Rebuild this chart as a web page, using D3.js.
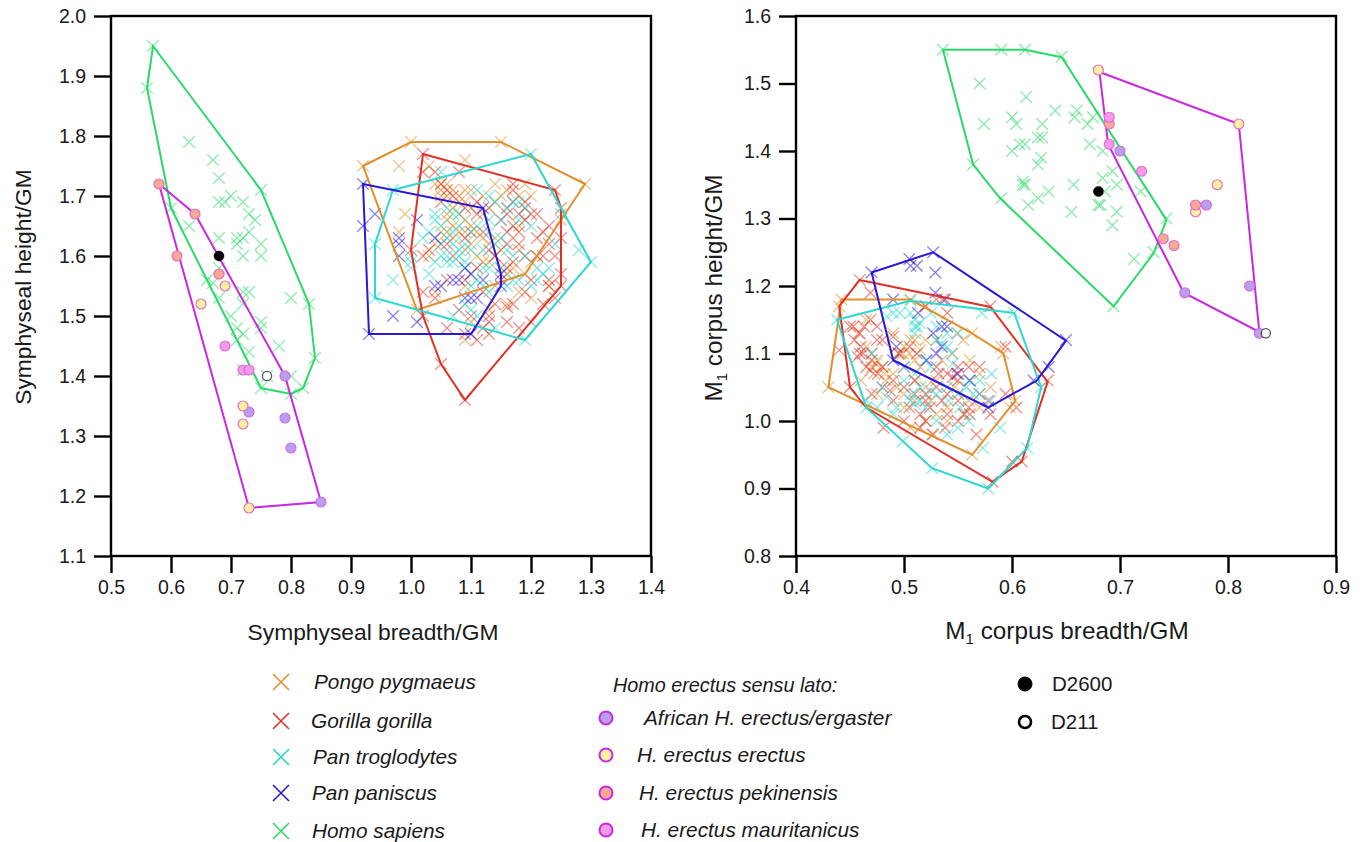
<!doctype html>
<html>

<head>
    <title>symphyseal and corpus scatter</title>
    <style>
        body { margin: 0; background: #fff; }
        svg { display: block; }
        text { font-family: "Liberation Sans", Arial, sans-serif; fill: #1a1a1a; }
        .tick text { font-size: 19.5px; }
        .axis-title { font-size: 22.8px; }
        .axis-title.m1 { font-size: 24.3px; }
        .legend text { font-size: 20.8px; font-style: italic; }
    </style>
    <script src="https://d3js.org/d3.v7.min.js"></script>
</head>

<body>
    <svg width="1365" height="842"></svg>
    <script>
        // symphysis panel, [breadth, height]
        var symPongo = [[.92,1.75],[1.0,1.79],[1.15,1.79],[.98,1.75],[1.09,1.76],[1.03,1.75],[1.29,1.72],[1.05,1.72],[1.05,1.71],[1.06,1.70],
            [.99,1.67],[.98,1.64],[1.14,1.72],[1.20,1.70],[1.19,1.72],[1.07,1.68],[1.08,1.67],[1.07,1.65],[1.06,1.64],[1.07,1.63],
            [1.10,1.65],[1.11,1.64],[1.15,1.70],[1.13,1.62],[1.12,1.63],[1.04,1.54],[1.17,1.58],[1.16,1.57],[1.21,1.60],[1.12,1.59],
            [1.09,1.46],[1.10,1.49],[1.01,1.51],[1.25,1.66],[1.19,1.57],[1.23,1.55],[1.13,1.51],[1.16,1.52],[1.08,1.70],[1.09,1.71],
            [1.14,1.69],[1.10,1.71],[1.06,1.66],[1.09,1.61],[1.14,1.60],[1.18,1.65],[1.09,1.66],[1.12,1.67],
            [1.04,1.72],[1.06,1.72],[1.07,1.71],[1.05,1.70],[1.09,1.69],[1.08,1.69],[1.10,1.68],[1.12,1.70],[1.16,1.71],[1.18,1.70],
            [1.06,1.67],[1.05,1.64],[1.08,1.64],[1.09,1.64],[1.04,1.62],[1.10,1.62],[1.14,1.63],[1.15,1.61],[1.11,1.60],[1.13,1.59],
            [1.15,1.58],[1.03,1.60],[1.18,1.61],[1.20,1.59],[1.18,1.54],[1.14,1.55],[1.09,1.55],[1.20,1.53]];
        var symGorilla = [[1.02,1.77],[1.24,1.71],[1.25,1.68],[1.25,1.55],[1.09,1.36],[1.05,1.42],[1.02,1.50],[1.0,1.61],[1.02,1.74],[1.08,1.74],
            [1.11,1.69],[1.17,1.72],[1.17,1.71],[1.16,1.68],[1.16,1.67],[1.18,1.67],[1.20,1.67],[1.21,1.67],[1.17,1.65],[1.16,1.64],
            [1.18,1.64],[1.11,1.67],[1.22,1.64],[1.23,1.62],[1.25,1.63],[1.02,1.60],[1.03,1.61],[1.09,1.63],[1.10,1.64],[1.12,1.64],
            [1.16,1.62],[1.18,1.62],[1.21,1.63],[1.21,1.60],[1.22,1.60],[1.17,1.59],[1.16,1.58],[1.11,1.58],[1.23,1.56],[1.25,1.57],
            [1.23,1.55],[1.20,1.56],[1.02,1.54],[1.08,1.51],[1.06,1.48],[1.09,1.47],[1.13,1.50],[1.13,1.49],[1.14,1.52],[1.16,1.515],
            [1.17,1.52],[1.16,1.49],[1.18,1.48],[1.13,1.47],[1.20,1.49],[1.05,1.72],[1.06,1.71],[1.04,1.74],[1.19,1.69],[1.07,1.60],
            [1.05,1.69],[1.07,1.70],[1.09,1.68],[1.13,1.68],[1.17,1.69],[1.19,1.66],[1.15,1.66],[1.19,1.68],[1.13,1.61],[1.19,1.60],
            [1.05,1.62],[1.06,1.62],[1.14,1.60],[1.15,1.56],[1.19,1.54],[1.22,1.52],[1.24,1.53],[1.04,1.53],[1.10,1.50],[1.12,1.48],
            [1.11,1.46],[1.06,1.56],[1.09,1.56],[1.23,1.65],[1.24,1.60],[1.12,1.54]];
        var symTroglodytes = [[.97,1.71],[1.20,1.77],[1.30,1.59],[1.19,1.46],[.94,1.53],[.94,1.62],[.97,1.56],[1.0,1.59],[1.0,1.58],[1.05,1.74],
            [1.04,1.67],[1.04,1.66],[1.07,1.67],[1.08,1.67],[1.11,1.71],[1.13,1.70],[1.14,1.69],[1.18,1.69],[1.17,1.69],[1.19,1.68],
            [1.20,1.65],[1.24,1.62],[1.28,1.61],[1.13,1.66],[1.11,1.65],[1.10,1.64],[1.05,1.62],[1.07,1.62],[1.09,1.62],[1.06,1.60],
            [1.09,1.59],[1.03,1.57],[1.11,1.56],[1.10,1.55],[1.16,1.61],[1.17,1.60],[1.16,1.55],[1.18,1.56],[1.21,1.58],[1.22,1.57],
            [1.21,1.56],[1.13,1.58],[1.15,1.58],[1.10,1.51],[1.11,1.50],[1.14,1.48],[1.08,1.65],[1.06,1.59],[1.07,1.59],[1.25,1.67],
            [1.0,1.60],[1.12,1.61],[1.15,1.63],[1.07,1.64],[1.05,1.65],
            [1.06,1.68],[1.03,1.64],[1.02,1.63],[1.06,1.63],[1.08,1.61],[1.08,1.60],[1.10,1.61],[1.12,1.58],[1.05,1.60],[1.04,1.59],
            [1.15,1.66],[1.16,1.68],[1.18,1.66],[1.14,1.62],[1.19,1.60],[1.17,1.56],[1.20,1.55],[1.23,1.58],[1.13,1.54],[1.12,1.55],
            [1.09,1.52],[1.07,1.50],[1.09,1.58],[1.13,1.64]];
        var symPaniscus = [[.92,1.72],[.94,1.67],[.92,1.65],[1.01,1.66],[.98,1.63],[.98,1.62],[.98,1.60],[.93,1.47],[.97,1.50],[1.01,1.49],
            [1.10,1.47],[1.04,1.55],[1.05,1.55],[1.07,1.56],[1.08,1.56],[1.09,1.58],[1.10,1.57],[1.09,1.53],[1.11,1.53],[1.10,1.53],
            [1.12,1.68],[1.15,1.57],[1.15,1.55],[1.04,1.63],[1.12,1.56]];
        var symSapiens = [[.57,1.95],[.56,1.88],[.63,1.79],[.67,1.76],[.68,1.73],[.75,1.71],[.68,1.69],[.69,1.69],[.70,1.70],[.72,1.69],
            [.73,1.67],[.74,1.66],[.73,1.64],[.60,1.68],[.63,1.65],[.68,1.63],[.71,1.63],[.72,1.63],[.71,1.62],[.75,1.62],
            [.72,1.60],[.75,1.60],[.68,1.58],[.67,1.555],[.66,1.56],[.68,1.53],[.73,1.54],[.72,1.54],[.72,1.52],[.80,1.53],
            [.83,1.52],[.70,1.50],[.75,1.49],[.75,1.48],[.71,1.48],[.72,1.47],[.78,1.45],[.73,1.44],[.71,1.46],[.84,1.43],
            [.72,1.41],[.76,1.40],[.80,1.40],[.75,1.38],[.80,1.37],[.82,1.38]];
        var symAfrican = [[.73,1.34],[.79,1.40],[.79,1.33],[.80,1.28],[.85,1.19]];
        var symErectus = [[.69,1.55],[.65,1.52],[.72,1.35],[.72,1.32],[.73,1.18]];
        var symPekinensis = [[.58,1.72],[.64,1.67],[.61,1.60],[.68,1.57]];
        var symMauritanicus = [[.69,1.45],[.72,1.41],[.73,1.41]];
        var symD2600 = [[.68,1.60]];
        var symD211 = [[.76,1.40]];

        var symPongoHull = [[.92,1.75],[1.0,1.79],[1.15,1.79],[1.29,1.72],[1.25,1.66],[1.19,1.57],[1.01,1.51]];
        var symGorillaHull = [[1.02,1.77],[1.24,1.71],[1.25,1.68],[1.25,1.55],[1.09,1.36],[1.05,1.42],[1.02,1.50],[1.0,1.61]];
        var symTroglodytesHull = [[.97,1.71],[1.20,1.77],[1.30,1.59],[1.19,1.46],[.94,1.53],[.94,1.62]];
        var symPaniscusHull = [[.92,1.72],[1.12,1.68],[1.15,1.57],[1.15,1.55],[1.10,1.47],[.93,1.47]];
        var symSapiensHull = [[.57,1.95],[.75,1.71],[.83,1.52],[.84,1.43],[.82,1.38],[.80,1.37],[.75,1.38],[.60,1.68],[.56,1.88]];
        var symErectusHull = [[.58,1.72],[.64,1.67],[.79,1.40],[.85,1.19],[.73,1.18]];

        // M1 corpus panel, [breadth, height]
        var corPongo = [[.442,1.18],[.506,1.18],[.563,1.13],[.592,1.10],[.603,1.03],[.563,.95],[.43,1.05],[.458,1.13],[.47,1.08],[.472,1.07],
            [.495,1.10],[.497,1.10],[.499,1.10],[.506,1.12],[.52,1.17],[.549,1.13],[.561,1.09],[.57,1.07],[.493,1.05],[.54,1.0],
            [.506,.99],[.526,.98],[.482,1.07],[.46,1.06],[.547,1.05],[.515,1.105],[.59,1.11],[.598,1.02],[.515,1.08],[.475,1.09],
            [.50,1.04],[.53,1.06],[.555,1.01],[.44,1.17],[.465,1.15],[.52,1.12],[.51,1.12],
            [.48,1.08],[.474,1.085],[.465,1.11],[.49,1.07],[.51,1.06],[.52,1.05],[.51,1.03],[.525,1.03],[.54,1.02],[.53,1.01],
            [.55,1.04],[.56,1.03],[.57,1.02],[.58,1.05],[.50,1.02],[.52,1.0],[.535,1.09],[.545,1.10],[.555,1.12],[.505,1.10],
            [.50,1.11],[.51,1.09],[.49,1.13],[.53,1.12],[.475,1.04],[.483,1.06]];
        var corGorilla = [[.459,1.209],[.469,1.19],[.58,1.17],[.633,1.06],[.609,.94],[.582,.91],[.45,1.05],[.453,1.14],[.469,1.15],[.463,1.14],
            [.459,1.13],[.459,1.10],[.462,1.10],[.457,1.095],[.47,1.09],[.476,1.07],[.475,1.12],[.594,1.11],[.594,1.04],[.604,1.02],
            [.567,.98],[.524,1.02],[.51,1.06],[.532,1.07],[.55,1.07],[.512,1.10],[.495,1.10],[.561,1.01],[.556,1.01],[.538,.99],
            [.515,.99],[.481,.99],[.527,.98],[.487,1.045],[.57,1.08],[.44,1.105],[.536,1.18],[.53,1.18],[.469,1.075],[.55,1.06],
            [.505,1.02],[.48,1.12],[.52,1.04],[.535,1.03],[.578,1.03],[.60,.94],[.49,1.03],[.454,1.12],
            [.45,1.14],[.46,1.11],[.465,1.08],[.47,1.10],[.48,1.08],[.49,1.06],[.48,1.05],[.47,1.04],[.50,1.05],[.51,1.04],
            [.52,1.03],[.53,1.05],[.54,1.04],[.55,1.03],[.56,1.02],[.57,1.04],[.58,1.01],[.50,1.08],[.53,1.08],[.54,1.07],
            [.55,1.08],[.56,1.08],[.545,1.065],[.515,1.01],[.52,1.00],[.50,1.00],[.54,1.01],[.55,1.0],[.505,1.11],[.49,1.125],
            [.475,1.14],[.54,1.16],[.52,1.17]];
        var corTroglodytes = [[.438,1.15],[.506,1.178],[.572,1.16],[.602,1.16],[.627,1.05],[.614,.96],[.578,.90],[.526,.93],[.465,1.03],[.465,1.02],
            [.573,.96],[.589,.99],[.51,1.14],[.512,1.14],[.496,1.16],[.506,1.16],[.499,.97],[.581,1.07],[.57,1.06],[.544,1.10],
            [.535,1.115],[.52,1.09],[.506,1.03],[.507,1.04],[.484,1.035],[.52,1.02],[.54,.98],[.541,1.03],[.552,1.02],[.564,1.04],
            [.484,1.155],[.49,1.16],[.53,1.04],[.515,1.05],[.493,1.02],[.55,1.13],[.558,1.05],[.47,1.10],[.525,1.16],[.54,1.13],
            [.51,1.15],[.51,1.13],[.515,1.145],[.53,1.14],[.53,1.12],[.54,1.11],[.545,1.085],[.525,1.08],[.51,1.07],[.50,1.06],
            [.515,1.03],[.51,1.025],[.525,1.045],[.54,1.05],[.55,1.04],[.56,1.06],[.57,1.04],[.48,1.05],[.49,1.01],[.475,1.02],
            [.53,1.0],[.55,.99],[.56,1.0],[.58,1.03],[.50,1.08]];
        var corPaniscus = [[.47,1.22],[.505,1.24],[.506,1.23],[.512,1.23],[.527,1.25],[.529,1.22],[.529,1.19],[.538,1.18],[.49,1.18],[.513,1.16],
            [.65,1.12],[.634,1.08],[.62,1.06],[.578,1.02],[.49,1.09],[.493,1.11],[.527,1.13],[.535,1.14],[.54,1.14],[.53,1.10],
            [.535,1.11],[.549,1.07],[.561,1.06],[.521,1.09]];
        var corSapiens = [[.536,1.55],[.59,1.55],[.612,1.55],[.646,1.54],[.57,1.50],[.613,1.48],[.574,1.44],[.60,1.45],[.604,1.44],[.628,1.44],
            [.64,1.46],[.66,1.46],[.658,1.45],[.675,1.45],[.67,1.44],[.607,1.41],[.612,1.41],[.60,1.40],[.624,1.42],[.628,1.42],
            [.672,1.41],[.684,1.40],[.627,1.39],[.624,1.38],[.564,1.38],[.693,1.37],[.684,1.36],[.61,1.355],[.612,1.35],[.61,1.35],
            [.657,1.35],[.697,1.35],[.686,1.34],[.634,1.34],[.719,1.34],[.624,1.33],[.59,1.33],[.615,1.32],[.68,1.32],[.682,1.32],
            [.655,1.31],[.697,1.31],[.693,1.29],[.743,1.30],[.713,1.24],[.731,1.25],[.694,1.17]];
        var corAfrican = [[.70,1.40],[.78,1.32],[.76,1.19],[.82,1.20],[.829,1.13]];
        var corErectus = [[.68,1.52],[.81,1.44],[.79,1.35],[.77,1.31]];
        var corPekinensis = [[.69,1.44],[.77,1.32],[.74,1.27],[.75,1.26]];
        var corMauritanicus = [[.69,1.45],[.72,1.37],[.69,1.41]];
        var corD2600 = [[.68,1.34]];
        var corD211 = [[.835,1.13]];

        var corPongoHull = [[.442,1.18],[.506,1.18],[.563,1.13],[.592,1.10],[.603,1.03],[.563,.95],[.43,1.05]];
        var corGorillaHull = [[.459,1.209],[.58,1.169],[.633,1.058],[.609,.94],[.582,.91],[.465,1.02],[.45,1.05],[.44,1.17]];
        var corTroglodytesHull = [[.438,1.15],[.506,1.178],[.602,1.16],[.627,1.05],[.614,.96],[.578,.90],[.526,.93],[.465,1.02]];
        var corPaniscusHull = [[.47,1.22],[.527,1.25],[.65,1.119],[.623,1.06],[.578,1.02],[.49,1.09]];
        var corSapiensHull = [[.536,1.55],[.612,1.55],[.646,1.539],[.743,1.298],[.731,1.248],[.694,1.17],[.589,1.33],[.564,1.38]];
        var corErectusHull = [[.681,1.517],[.81,1.44],[.829,1.132],[.759,1.19],[.689,1.41]];

        var symXTicks = [0.5, 0.6, 0.7, 0.8, 0.9, 1.0, 1.1, 1.2, 1.3, 1.4];
        var symYTicks = [1.1, 1.2, 1.3, 1.4, 1.5, 1.6, 1.7, 1.8, 1.9, 2.0];
        var corXTicks = [0.4, 0.5, 0.6, 0.7, 0.8, 0.9];
        var corYTicks = [0.8, 0.9, 1.0, 1.1, 1.2, 1.3, 1.4, 1.5, 1.6];

        var apeNames = ["Pongo pygmaeus", "Gorilla gorilla", "Pan troglodytes", "Pan paniscus", "Homo sapiens"];
        var erectusNames = ["African H. erectus/ergaster", "H. erectus erectus", "H. erectus pekinensis", "H. erectus mauritanicus"];

        var orange = "#e0902a", red = "#de3226", cyan = "#2cd8cf", blue = "#2a18d6", green = "#2bd96a", magenta = "#c828e0";
        var fillAfrican = "#b9a0ef", fillErectus = "#fff0a0", fillPekinensis = "#f7a992", fillMauritanicus = "#f59ae8";

        var svg = d3.select("svg");

        function crosses(g, x, y, data, color, r) {
            g.append("g").selectAll("path")
                .data(data)
                .enter()
                .append("path")
                .attr("transform", function (d) { return "translate(" + x(d[0]) + "," + y(d[1]) + ")"; })
                .attr("d", "M" + -r + "," + -r + "L" + r + "," + r + "M" + -r + "," + r + "L" + r + "," + -r)
                .attr("fill", "none")
                .attr("stroke", color)
                .attr("stroke-opacity", 0.55)
                .attr("stroke-width", 1.25);
        }

        function hull(g, x, y, data, color) {
            g.append("path")
                .datum(data)
                .attr("d", d3.line().x(function (d) { return x(d[0]); }).y(function (d) { return y(d[1]); }).curve(d3.curveLinearClosed))
                .attr("fill", "none")
                .attr("stroke", color)
                .attr("stroke-width", 2);
        }

        function dots(g, x, y, data, fill, stroke, r, sw) {
            g.append("g").selectAll("circle")
                .data(data)
                .enter()
                .append("circle")
                .attr("cx", function (d) { return x(d[0]); })
                .attr("cy", function (d) { return y(d[1]); })
                .attr("r", r)
                .attr("fill", fill)
                .attr("stroke", stroke)
                .attr("stroke-width", sw);
        }

        function panel(box, xDomain, yDomain, xTicks, yTicks, s) {
            var x = d3.scaleLinear().domain(xDomain).range([box.left, box.right]);
            var y = d3.scaleLinear().domain(yDomain).range([box.bottom, box.top]);
            var g = svg.append("g");

            crosses(g, x, y, s.pongo, orange, 5.8);
            crosses(g, x, y, s.gorilla, red, 5.8);
            crosses(g, x, y, s.troglodytes, cyan, 5.8);
            crosses(g, x, y, s.paniscus, blue, 5.8);
            crosses(g, x, y, s.sapiens, green, 5.8);

            hull(g, x, y, s.pongoHull, orange);
            hull(g, x, y, s.gorillaHull, red);
            hull(g, x, y, s.troglodytesHull, cyan);
            hull(g, x, y, s.paniscusHull, blue);
            hull(g, x, y, s.sapiensHull, green);
            hull(g, x, y, s.erectusHull, magenta);

            dots(g, x, y, s.african, fillAfrican, "#d66be0", 5, 1.2);
            dots(g, x, y, s.erectus, fillErectus, "#e070c8", 5, 1.2);
            dots(g, x, y, s.pekinensis, fillPekinensis, "#e070c8", 5, 1.2);
            dots(g, x, y, s.mauritanicus, fillMauritanicus, "#e070d8", 5, 1.2);
            dots(g, x, y, s.d2600, "#000", "#000", 5, 0.5);
            dots(g, x, y, s.d211, "#fff", "#555", 4.6, 1.3);

            // frame on top of the marks, ticks stick out of it
            g.append("rect")
                .attr("x", box.left).attr("y", box.top)
                .attr("width", box.right - box.left).attr("height", box.bottom - box.top)
                .attr("fill", "none").attr("stroke", "#000").attr("stroke-width", 2.4);

            var xAxis = g.append("g")
                .attr("transform", "translate(0," + box.bottom + ")")
                .call(d3.axisBottom(x).tickValues(xTicks).tickFormat(d3.format(".1f")).tickSize(17).tickPadding(7));
            var yAxis = g.append("g")
                .attr("transform", "translate(" + box.left + ",0)")
                .call(d3.axisLeft(y).tickValues(yTicks).tickFormat(d3.format(".1f")).tickSize(17).tickPadding(8));

            [xAxis, yAxis].forEach(function (a) {
                a.select(".domain").remove();
                a.selectAll(".tick line").attr("stroke", "#000").attr("stroke-width", 2.4);
            });
        }

        var symBox = { left: 111, right: 651, top: 16, bottom: 556 };
        var corBox = { left: 796, right: 1336, top: 16, bottom: 556 };

        panel(symBox, [0.5, 1.4], [1.1, 2.0], symXTicks, symYTicks, {
            pongo: symPongo, gorilla: symGorilla, troglodytes: symTroglodytes, paniscus: symPaniscus, sapiens: symSapiens,
            pongoHull: symPongoHull, gorillaHull: symGorillaHull, troglodytesHull: symTroglodytesHull,
            paniscusHull: symPaniscusHull, sapiensHull: symSapiensHull, erectusHull: symErectusHull,
            african: symAfrican, erectus: symErectus, pekinensis: symPekinensis, mauritanicus: symMauritanicus,
            d2600: symD2600, d211: symD211
        });

        panel(corBox, [0.4, 0.9], [0.8, 1.6], corXTicks, corYTicks, {
            pongo: corPongo, gorilla: corGorilla, troglodytes: corTroglodytes, paniscus: corPaniscus, sapiens: corSapiens,
            pongoHull: corPongoHull, gorillaHull: corGorillaHull, troglodytesHull: corTroglodytesHull,
            paniscusHull: corPaniscusHull, sapiensHull: corSapiensHull, erectusHull: corErectusHull,
            african: corAfrican, erectus: corErectus, pekinensis: corPekinensis, mauritanicus: corMauritanicus,
            d2600: corD2600, d211: corD211
        });

        // axis titles
        svg.append("text").attr("class", "axis-title").attr("x", 373).attr("y", 640).attr("text-anchor", "middle").text("Symphyseal breadth/GM");
        svg.append("text").attr("class", "axis-title").attr("transform", "translate(31,287) rotate(-90)").attr("text-anchor", "middle").text("Symphyseal height/GM");

        var m1x = svg.append("text").attr("class", "axis-title m1").attr("x", 1067).attr("y", 639).attr("text-anchor", "middle");
        m1x.append("tspan").text("M");
        m1x.append("tspan").attr("font-size", 15).attr("dy", 5).text("1");
        m1x.append("tspan").attr("dy", -5).text(" corpus breadth/GM");

        var m1y = svg.append("text").attr("class", "axis-title m1").attr("transform", "translate(722,288) rotate(-90)").attr("text-anchor", "middle");
        m1y.append("tspan").text("M");
        m1y.append("tspan").attr("font-size", 15).attr("dy", 5).text("1");
        m1y.append("tspan").attr("dy", -5).text(" corpus height/GM");

        // legend
        var legend = svg.append("g").attr("class", "legend");
        var apeColors = [orange, red, cyan, blue, green];
        var apeRows = [682, 721, 757, 793, 831];
        var apeText = [314, 311, 313, 312, 312];
        var r = 8;
        apeNames.forEach(function (name, i) {
            legend.append("path")
                .attr("transform", "translate(281," + apeRows[i] + ")")
                .attr("d", "M" + -r + "," + -r + "L" + r + "," + r + "M" + -r + "," + r + "L" + r + "," + -r)
                .attr("fill", "none").attr("stroke", apeColors[i]).attr("stroke-width", 1.6);
            legend.append("text").attr("x", apeText[i]).attr("y", apeRows[i] + 7).text(name);
        });

        legend.append("text").attr("x", 613).attr("y", 692).attr("style", "font-size:19.8px").text("Homo erectus sensu lato:");
        var erectusFills = [fillAfrican, fillErectus, fillPekinensis, fillMauritanicus];
        var erectusRows = [718, 755, 793, 830];
        var erectusText = [644, 637, 639, 641];
        erectusNames.forEach(function (name, i) {
            legend.append("circle")
                .attr("cx", 606).attr("cy", erectusRows[i]).attr("r", 6.5)
                .attr("fill", erectusFills[i]).attr("stroke", magenta).attr("stroke-width", 2);
            legend.append("text").attr("x", erectusText[i]).attr("y", erectusRows[i] + 7).text(name);
        });

        svg.append("circle").attr("cx", 1025).attr("cy", 684).attr("r", 7).attr("fill", "#000").attr("stroke", "#000");
        svg.append("circle").attr("cx", 1025).attr("cy", 722).attr("r", 6).attr("fill", "#fff").attr("stroke", "#000").attr("stroke-width", 2.6);
        svg.append("text").attr("x", 1052).attr("y", 691).attr("font-size", 20.5).text("D2600");
        svg.append("text").attr("x", 1051).attr("y", 729).attr("font-size", 20.5).text("D211");
    </script>
</body>

</html>
